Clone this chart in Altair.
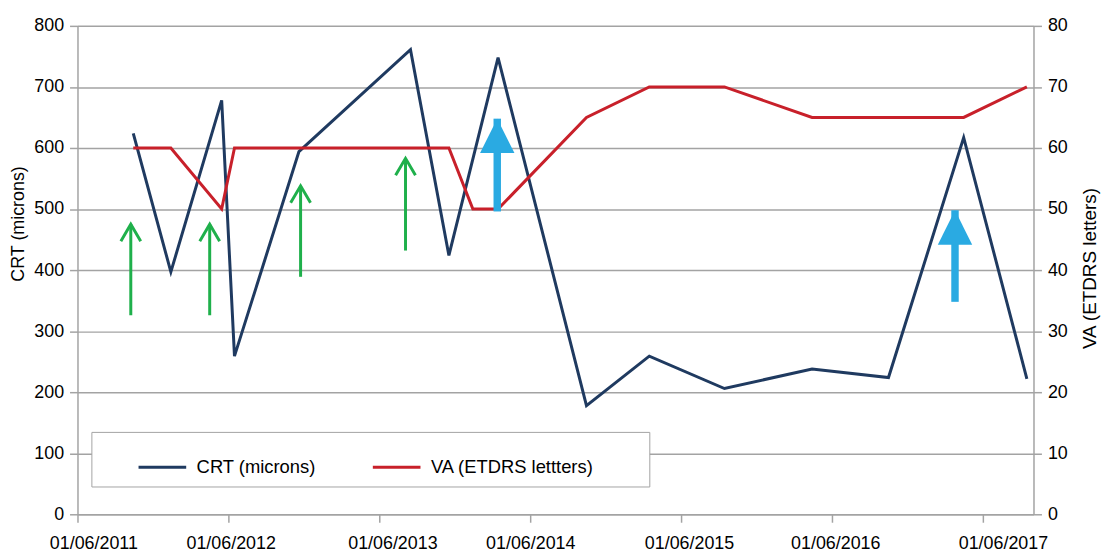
import altair as alt
import pandas as pd

# ---------------- data ----------------
CRT_LABEL = "CRT (microns)"
VA_LABEL = "VA (ETDRS lettters)"

crt_dates = ["2011-10-14", "2012-01-13", "2012-05-15", "2012-06-15", "2012-11-18",
             "2013-08-15", "2013-11-16", "2014-03-15", "2014-10-15", "2015-03-16",
             "2015-09-14", "2016-04-13", "2016-10-15", "2017-04-15", "2017-09-15"]
crt_values = [624, 397, 678, 259, 594, 761, 424, 748, 178, 259, 206, 238, 224, 617, 222]

va_dates = ["2011-10-14", "2012-01-13", "2012-05-15", "2012-06-15", "2013-11-16",
            "2014-01-13", "2014-03-15", "2014-10-15", "2015-03-16", "2015-09-14",
            "2016-04-13", "2016-10-15", "2017-04-15", "2017-09-15"]
va_values = [60, 60, 50, 60, 60, 50, 50, 65, 70, 70, 65, 65, 65, 70]

# injection arrows (green) and treatment-switch arrows (blue), in CRT units
green_dates = ["2011-10-08", "2012-04-16", "2012-11-22", "2013-08-03"]
green_from = [326, 326, 389, 432]
green_to = [475, 475, 538, 583]

blue_dates = ["2014-03-13", "2017-03-25"]
blue_from = [496, 348]
blue_to = [648, 498]

tick_years = [2011, 2012, 2013, 2014, 2015, 2016, 2017]
label_shift = [16, 2, 13, 0, 8, 3, 20]

crt_df = pd.DataFrame({"date": crt_dates, "value": crt_values, "series": CRT_LABEL})
va_df = pd.DataFrame({"date": va_dates, "value": va_values, "series": VA_LABEL})
green_df = pd.DataFrame({"date": green_dates, "y_from": green_from, "y_to": green_to})
blue_df = pd.DataFrame({"date": blue_dates, "y_from": blue_from, "y_to": blue_to})

# ---------------- styles ----------------
FONT = "Liberation Sans"
GRID = "#a3a3a3"
NAVY = "#1f3a60"
RED = "#c8202a"
GREEN = "#1fb04b"
SKY = "#2aaae2"

x_axis = alt.Axis(
    title=None,
    values=[alt.DateTime(year=y, month=6, date=1) for y in tick_years],
    format="%d/%m/%Y",
    grid=False,
    domainColor=GRID, domainWidth=1.5,
    tickColor=GRID, tickWidth=1.5, tickSize=8,
    labelPadding=12, labelFontSize=18, labelFont=FONT, labelColor="black",
    labelFlush=False, labelOverlap=False,
    labelOffset={
        "condition": [
            {"test": f"year(datum.value) == {y}", "value": s}
            for y, s in zip(tick_years, label_shift)
        ],
        "value": 0,
    },
)
x_enc = alt.X(
    "date:T",
    axis=x_axis,
    scale=alt.Scale(domain=[alt.DateTime(year=2011, month=6, date=1),
                            alt.DateTime(year=2017, month=10, date=1)]),
)

crt_scale = alt.Scale(domain=[0, 800], nice=False, zero=True)
va_scale = alt.Scale(domain=[0, 80], nice=False, zero=True)

color_scale = alt.Scale(domain=[CRT_LABEL, VA_LABEL], range=[NAVY, RED])
legend = alt.Legend(
    title="M", titleOrient="right", titleFontSize=18, titlePadding=31,
    titleColor="white",
    orient="none", legendX=14, legendY=409, direction="horizontal",
    symbolType="stroke", symbolSize=2304, symbolStrokeWidth=3, symbolOffset=36,
    labelFontSize=18.5, labelFont=FONT, labelColor="black", labelOffset=9,
    labelLimit=400,
    columnPadding=20, padding=10,
    fillColor="white", strokeColor=GRID,
)

crt_line = alt.Chart(crt_df).mark_line(strokeWidth=3).encode(
    x=x_enc,
    y=alt.Y("value:Q", scale=crt_scale, axis=alt.Axis(
        title=CRT_LABEL, orient="left", values=list(range(0, 801, 100)),
        grid=True, gridColor=GRID, gridWidth=1.5,
        domainColor=GRID, domainWidth=1.5, tickColor=GRID, tickWidth=1.5, tickSize=8,
        labelPadding=6, labelFontSize=18, labelFont=FONT, labelColor="black",
        titleFontSize=18, titleFont=FONT, titleFontWeight="normal", titleColor="black",
        titlePadding=6, titleY=199,
    )),
    color=alt.Color("series:N", scale=color_scale, legend=legend),
)

va_line = alt.Chart(va_df).mark_line(strokeWidth=3).encode(
    x=x_enc,
    y=alt.Y("value:Q", scale=va_scale, axis=alt.Axis(
        title="VA (ETDRS letters)", orient="right", values=list(range(0, 81, 10)),
        grid=False,
        domainColor=GRID, domainWidth=1.5, tickColor=GRID, tickWidth=1.5, tickSize=8,
        labelPadding=6, labelFontSize=18, labelFont=FONT, labelColor="black",
        titleFontSize=19, titleFont=FONT, titleFontWeight="normal", titleColor="black",
        titlePadding=13, titleAngle=270, titleBaseline="top", titleY=244,
    )),
    color=alt.Color("series:N", scale=color_scale, legend=legend),
)

green_shaft = alt.Chart(green_df).mark_rule(color=GREEN, strokeWidth=3).encode(
    x=x_enc,
    y=alt.Y("y_from:Q", scale=crt_scale, axis=None),
    y2="y_to:Q",
)
green_head = alt.Chart(green_df).mark_point(
    shape="M-1,1.7L0,0L1,1.7", size=400, filled=False, color=GREEN,
    strokeWidth=3, opacity=1,
).encode(
    x=x_enc,
    y=alt.Y("y_to:Q", scale=crt_scale, axis=None),
)
blue_shaft = alt.Chart(blue_df).mark_rule(color=SKY, strokeWidth=7.5).encode(
    x=x_enc,
    y=alt.Y("y_from:Q", scale=crt_scale, axis=None),
    y2="y_to:Q",
)
blue_head = alt.Chart(blue_df).mark_point(
    shape="M0,0L1,2L-1,2Z", size=1200, filled=True, color=SKY,
    strokeWidth=0, opacity=1,
).encode(
    x=x_enc,
    y=alt.Y("y_to:Q", scale=crt_scale, axis=None),
)

chart = alt.layer(
    crt_line, va_line, green_shaft, green_head, blue_shaft, blue_head
).resolve_scale(
    y="independent"
).properties(
    width=963, height=492,
    autosize="none",
    padding={"left": 70, "top": 16, "right": 68, "bottom": 38},
    background="white",
).configure_view(
    stroke=None
)

chart.save("out.html", embed_options={"renderer": "svg", "actions": False})
